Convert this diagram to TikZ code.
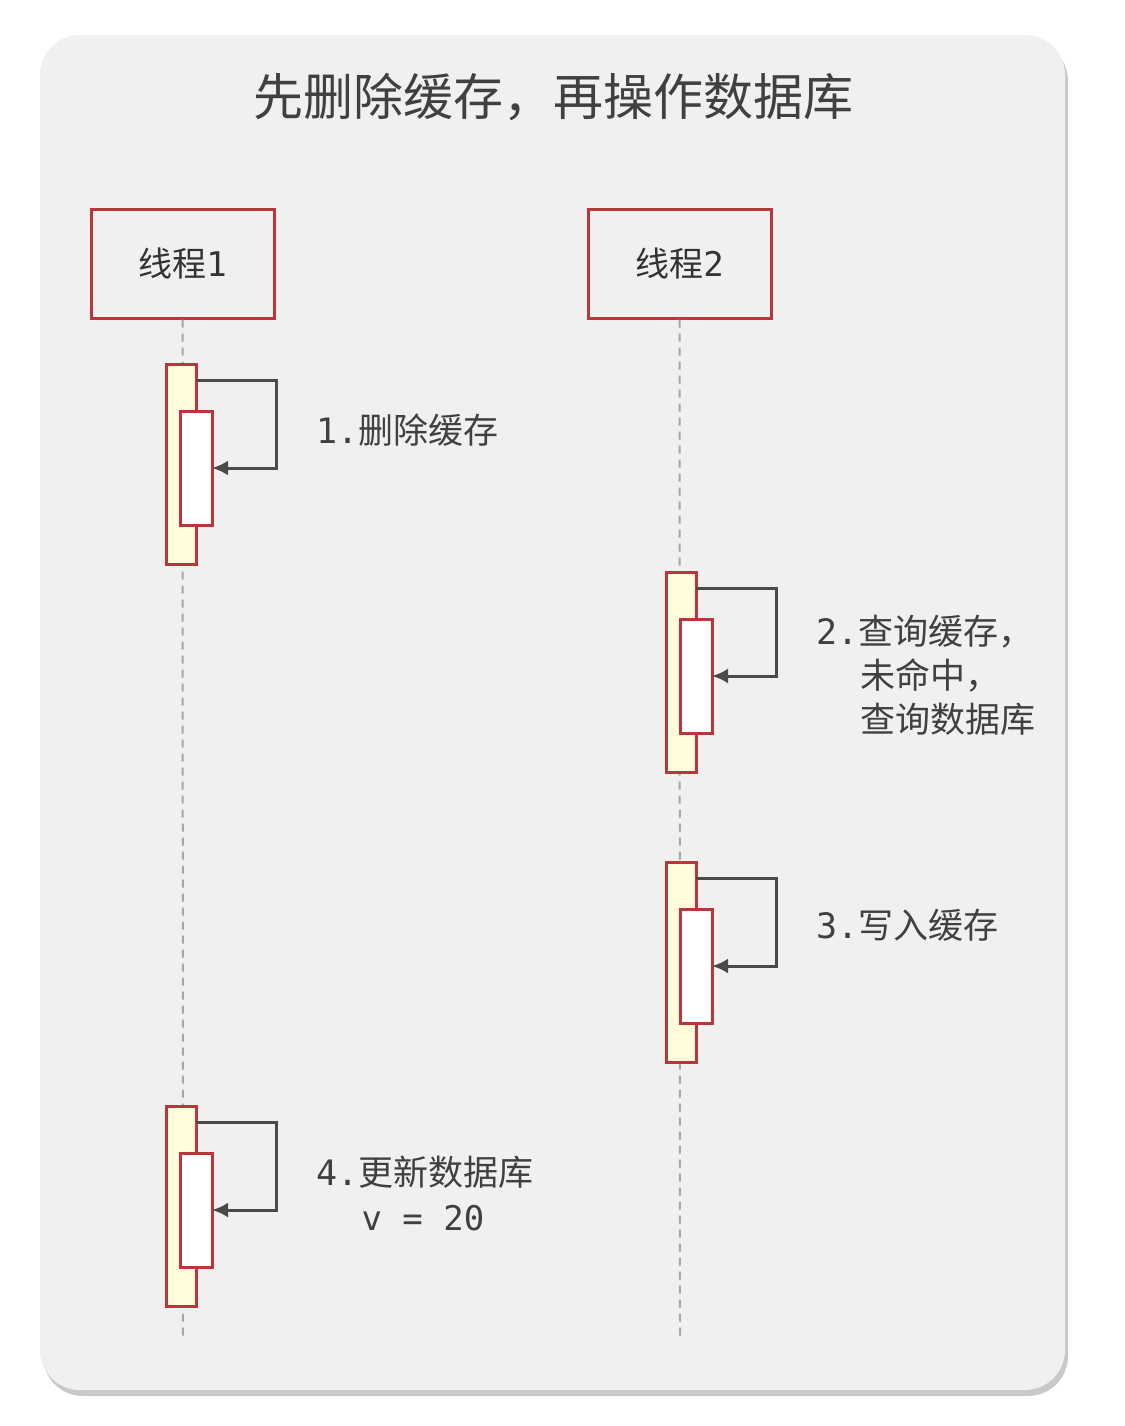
\documentclass[tikz,border=0pt]{standalone}
\usepackage{fontspec}
\newfontfamily\cjk{Noto Sans CJK SC}
\newfontfamily\mono{DejaVu Sans Mono}
\usetikzlibrary{shadows,arrows.meta}
\definecolor{bg}{HTML}{F0F0F0}
\definecolor{bred}{HTML}{B8373A}
\definecolor{act}{HTML}{FFFBDC}
\definecolor{arr}{HTML}{4A4A4A}
\newcommand{\mn}[1]{{\mono #1}}
\begin{document}
\begin{tikzpicture}[x=1pt,y=-1pt,
  thread/.style={draw=bred,line width=3pt,fill=bg,minimum width=183pt,minimum height=109pt,font=\cjk\fontsize{34}{40}\selectfont,text=black!80},
  outer/.style={draw=bred,line width=3pt,fill=act},
  inner/.style={draw=bred,line width=3pt,fill=white},
  life/.style={draw=gray!70,line width=2pt,dash pattern=on 8pt off 6pt},
  self/.style={draw=arr,line width=3pt,-{Latex[length=16pt,width=15pt]}},
  lbl/.style={anchor=west,font=\cjk\fontsize{35}{44}\selectfont,text=black!75,align=left}]
\useasboundingbox (0,0) rectangle (1124,1426);
\fill[white] (0,0) rectangle (1124,1426);
\fill[bg,rounded corners=40pt,drop shadow={shadow xshift=3pt,shadow yshift=-6pt,opacity=0.35,fill=black!60}] (40,35) rectangle (1065,1390);
\node[font=\cjk\fontsize{50}{56}\selectfont,text=black!75] (title) at (553,97) {先删除缓存，再操作数据库};
\node[thread] (t1) at (182.5,263.5) {线程\mn{1}};
\node[thread] (t2) at (679.5,263.5) {线程\mn{2}};
\coordinate (e1) at (183,1340);
\coordinate (e2) at (680,1340);
\draw[life] (t1.south) -- (e1);
\draw[life] (t2.south) -- (e2);
\foreach \n/\x/\y in {a/166/364, b/666/572, c/666/862, d/166/1106}{
  \draw[outer] (\x,\y) rectangle ++(30,200);
  \draw[inner] (\x+14,\y+47) rectangle ++(32,114);
  \coordinate (\n s) at (\x+30,\y+16);
  \coordinate (\n t) at (\x+46,\y+104);
  \draw[self] (\n s) -- (\x+110,\y+16) -- (\x+110,\y+104) -- (\n t);
}
\node[lbl] (l1) at (313,430) {\mn{1.}删除缓存};
\node[lbl,anchor=north west] (l2) at (813,612) {\mn{2.}查询缓存，\\\hspace*{44pt}未命中，\\\hspace*{44pt}查询数据库};
\node[lbl] (l3) at (813,925) {\mn{3.}写入缓存};
\node[lbl] (l4) at (313,1172) {\mn{4.}更新数据库};
\node[anchor=west,font=\mono\fontsize{34}{40}\selectfont,text=black!75] (l5) at (358,1218) {v = 20};
\end{tikzpicture}
\end{document}
